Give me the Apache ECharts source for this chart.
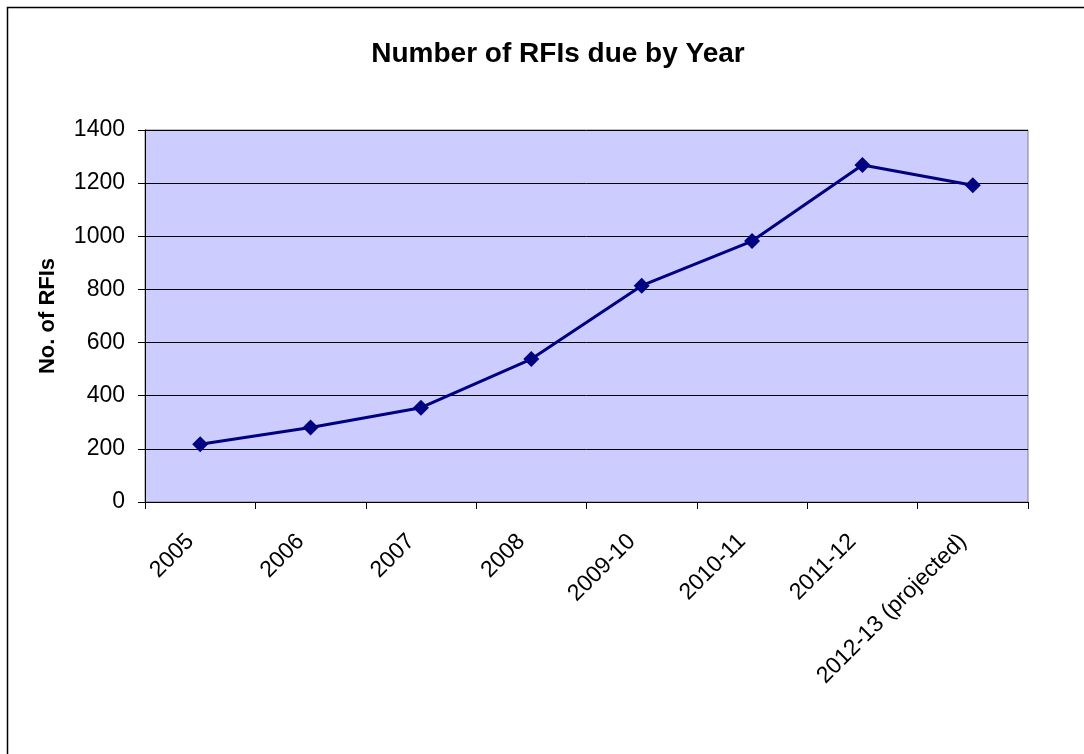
<!DOCTYPE html>
<html>
<head>
<meta charset="utf-8">
<script src="https://cdn.jsdelivr.net/npm/echarts@6/dist/echarts.min.js"></script>
<style>
html,body{margin:0;padding:0;background:#fff;}
#chart{width:1084px;height:754px;}
</style>
</head>
<body>
<div id="chart"></div>
<script>
var categories = ['2005', '2006', '2007', '2008', '2009-10', '2010-11', '2011-12', '2012-13 (projected)'];
var rfiCounts = [217, 280, 355, 538, 814, 982, 1268, 1192];
var yTicks = [0, 200, 400, 600, 800, 1000, 1200, 1400];

var chart = echarts.init(document.getElementById('chart'), null, {renderer: 'canvas'});
var font = 'Arial, "Liberation Sans", sans-serif';
chart.setOption({
  backgroundColor: '#ffffff',
  animation: false,
  title: {
    text: 'Number of RFIs due by Year',
    left: 553,
    textAlign: 'center',
    top: 35,
    textStyle: {fontFamily: font, fontWeight: 'bold', fontSize: 28, color: '#000'}
  },
  graphic: [{
    type: 'rect',
    shape: {x: 7.5, y: 7.5, width: 1200, height: 900},
    style: {fill: 'none', stroke: '#000', lineWidth: 1.5},
    silent: true,
    z: -1
  }],
  grid: {
    left: 145, right: 56, top: 130, bottom: 252,
    show: true,
    backgroundColor: '#CCCCFF',
    borderColor: '#808080',
    borderWidth: 1
  },
  xAxis: {
    type: 'category',
    data: categories,
    boundaryGap: true,
    axisLine: {lineStyle: {color: '#000', width: 1}},
    axisTick: {show: true, alignWithLabel: false, length: 7, lineStyle: {color: '#000'}},
    axisLabel: {rotate: 45, fontFamily: font, fontSize: 23, color: '#000', margin: 26, padding: [0, 14, 0, 0], interval: 0},
    splitLine: {show: false}
  },
  yAxis: {
    type: 'value',
    min: yTicks[0],
    max: yTicks[yTicks.length - 1],
    interval: yTicks[1] - yTicks[0],
    name: 'No. of RFIs',
    nameLocation: 'middle',
    nameRotate: 90,
    nameGap: 86,
    nameTextStyle: {fontFamily: font, fontWeight: 'bold', fontSize: 22, color: '#000'},
    axisLine: {show: true, lineStyle: {color: '#000', width: 1}},
    axisTick: {show: true, length: 7, lineStyle: {color: '#000'}},
    axisLabel: {fontFamily: font, fontSize: 23, color: '#000', margin: 20, formatter: function (v) { return String(v); }},
    splitLine: {show: true, lineStyle: {color: '#000', width: 1}}
  },
  series: [{
    type: 'line',
    data: rfiCounts,
    symbol: 'diamond',
    symbolSize: 16,
    lineStyle: {color: '#000080', width: 3},
    itemStyle: {color: '#000080'},
    z: 5
  }]
});
</script>
</body>
</html>
